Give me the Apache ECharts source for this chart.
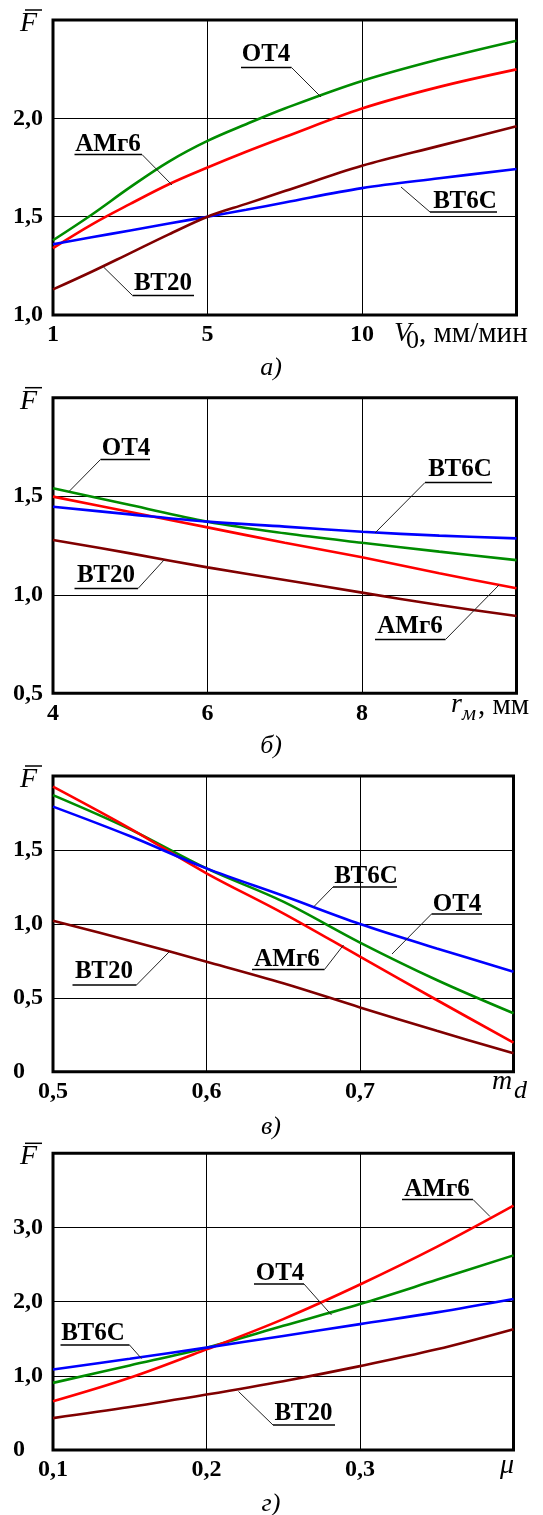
<!DOCTYPE html>
<html><head><meta charset="utf-8">
<script src="https://cdn.jsdelivr.net/npm/echarts@6/dist/echarts.min.js"></script>
<style>html,body{margin:0;padding:0;background:#fff}#c{width:543px;height:1515px}</style>
</head><body><div id="c"></div>
<script>
// ---------- data ----------
const materials = ['ОТ4', 'АМг6', 'ВТ6С', 'ВТ20'];

// panel а: x positions on the axis (equally spaced ticks 1, 5, 10)
const xA = [0, 0.25, 0.5, 0.75, 1, 1.25, 1.5, 2, 2.5, 3];
const xTicksA = ['1', '5', '10', ''];
const yTicksA = ['1,0', '1,5', '2,0', ''];
const aOT4  = [1.38, 1.51, 1.65, 1.78, 1.885, 1.97, 2.05, 2.19, 2.30, 2.395];
const aAMg6 = [1.34, 1.46, 1.565, 1.665, 1.75, 1.83, 1.905, 2.05, 2.16, 2.249];
const aVT6S = [1.36, 1.395, 1.43, 1.465, 1.5, 1.535, 1.572, 1.645, 1.695, 1.742];
const aVT20 = [1.13, 1.22, 1.315, 1.41, 1.5, 1.565, 1.63, 1.759, 1.86, 1.96];

// panel б
const xB = [4, 5, 6, 7, 8, 9, 10];
const xTicksB = ['4', '6', '8', ''];
const yTicksB = ['0,5', '1,0', '1,5', ''];
const bOT4  = [1.54, 1.455, 1.371, 1.312, 1.264, 1.219, 1.176];
const bAMg6 = [1.498, 1.42, 1.342, 1.264, 1.19, 1.109, 1.033];
const bVT6S = [1.447, 1.408, 1.371, 1.346, 1.32, 1.30, 1.286];
const bVT20 = [1.278, 1.21, 1.139, 1.075, 1.011, 0.948, 0.892];

// panel в
const xC = [0.5, 0.55, 0.6, 0.65, 0.7, 0.75, 0.8];
const xTicksC = ['0,5', '0,6', '0,7', ''];
const yTicksC = ['0', '0,5', '1,0', '1,5', ''];
const cOT4  = [1.871, 1.641, 1.375, 1.15, 0.873, 0.62, 0.395];
const cAMg6 = [1.928, 1.646, 1.342, 1.071, 0.778, 0.485, 0.196];
const cVT6S = [1.793, 1.594, 1.375, 1.19, 0.999, 0.834, 0.676];
const cVT20 = [1.021, 0.886, 0.744, 0.598, 0.435, 0.277, 0.124];

// panel г
const xD = [0.1, 0.15, 0.2, 0.25, 0.3, 0.35, 0.4];
const xTicksD = ['0,1', '0,2', '0,3', ''];
const yTicksD = ['0', '1,0', '2,0', '3,0', ''];
const dOT4  = [0.905, 1.14, 1.38, 1.674, 1.968, 2.294, 2.624];
const dAMg6 = [0.656, 0.973, 1.357, 1.765, 2.231, 2.738, 3.294];
const dVT6S = [1.086, 1.23, 1.38, 1.538, 1.697, 1.855, 2.036];
const dVT20 = [0.43, 0.579, 0.747, 0.928, 1.131, 1.357, 1.629];

const captions = ['а)', 'б)', 'в)', 'г)'];

// ---------- styles ----------
const SERIF = "'Liberation Serif','Times New Roman',serif";
const lineColors = { 'ОТ4': '#008c00', 'АМг6': '#ff0000', 'ВТ6С': '#0000ff', 'ВТ20': '#800000' };

const panels = [
  { x: xA, ys: [aOT4, aAMg6, aVT6S, aVT20], xt: xTicksA, yt: yTicksA, xr: [0, 3, 1], yr: [1.0, 2.5, 0.5],
    grid: { left: 53, top: 20, width: 463.5, height: 295 } },
  { x: xB, ys: [bOT4, bAMg6, bVT6S, bVT20], xt: xTicksB, yt: yTicksB, xr: [4, 10, 2], yr: [0.5, 2.0, 0.5],
    grid: { left: 53, top: 397.7, width: 463.5, height: 295.6 } },
  { x: xC, ys: [cOT4, cAMg6, cVT6S, cVT20], xt: xTicksC, yt: yTicksC, xr: [0.5, 0.8, 0.1], yr: [0, 2.0, 0.5],
    grid: { left: 53, top: 776, width: 460.5, height: 295.7 } },
  { x: xD, ys: [dOT4, dAMg6, dVT6S, dVT20], xt: xTicksD, yt: yTicksD, xr: [0.1, 0.4, 0.1], yr: [0, 4, 1],
    grid: { left: 53, top: 1153.3, width: 460.5, height: 296.7 } }
];

const grids = [], xAxes = [], yAxes = [], series = [];
panels.forEach((p, i) => {
  grids.push(Object.assign({ show: true, borderColor: '#000', borderWidth: 3, backgroundColor: 'transparent' }, p.grid));
  xAxes.push({
    type: 'value', gridIndex: i, min: p.xr[0], max: p.xr[1], interval: p.xr[2],
    axisLine: { show: false }, axisTick: { show: false },
    splitLine: { show: true, lineStyle: { color: '#000', width: 1 } },
    axisLabel: { margin: 8, color: '#000', fontFamily: SERIF, fontWeight: 'bold', fontSize: 24,
      showMinLabel: true, showMaxLabel: true,
      formatter: v => p.xt[Math.round((v - p.xr[0]) / p.xr[2])] || '' }
  });
  yAxes.push({
    type: 'value', gridIndex: i, min: p.yr[0], max: p.yr[1], interval: p.yr[2],
    axisLine: { show: false }, axisTick: { show: false },
    splitLine: { show: true, lineStyle: { color: '#000', width: 1 } },
    axisLabel: { margin: 40, align: 'left', color: '#000', fontFamily: SERIF, fontWeight: 'bold', fontSize: 24,
      showMinLabel: true, showMaxLabel: true,
      formatter: v => p.yt[Math.round((v - p.yr[0]) / p.yr[2])] || '' }
  });
  p.ys.forEach((arr, k) => {
    series.push({
      type: 'line', name: materials[k], xAxisIndex: i, yAxisIndex: i,
      data: p.x.map((xv, j) => [xv, arr[j]]),
      smooth: 0.35, showSymbol: false, silent: true,
      lineStyle: { color: lineColors[materials[k]], width: 2.6 },
      itemStyle: { color: lineColors[materials[k]] }
    });
  });
});

// ---------- annotations ----------
const g = [];
function tag(text, cx, cy, ux1, ux2, uy, lx, ly) {
  g.push({ type: 'text', z: 100, style: { text, x: cx, y: cy, fill: '#000', align: 'center', verticalAlign: 'middle',
    font: 'bold 25px ' + SERIF } });
  g.push({ type: 'line', z: 100, shape: { x1: ux1, y1: uy, x2: ux2, y2: uy }, style: { stroke: '#000', lineWidth: 1.5 } });
  const ex = (Math.abs(lx - ux1) < Math.abs(lx - ux2)) ? ux1 : ux2;
  g.push({ type: 'line', z: 100, shape: { x1: ex, y1: uy, x2: lx, y2: ly }, style: { stroke: '#222', lineWidth: 1 } });
}
// panel а
tag('ОТ4', 266, 55, 241, 291.5, 67.5, 321, 97);
tag('АМг6', 108, 145, 74.5, 142, 154.5, 172, 185);
tag('ВТ6С', 465, 202, 430, 497, 212, 401, 187);
tag('ВТ20', 163, 284, 132.5, 194, 295.5, 103.5, 267);
// panel б
tag('ОТ4', 126, 449, 100.5, 150, 459.5, 69, 491.5);
tag('ВТ6С', 460, 470, 425, 492, 482.5, 375, 533);
tag('ВТ20', 106, 576, 74.5, 138, 588.5, 164, 560);
tag('АМг6', 410, 627, 375, 445.5, 639.5, 499, 585);
// panel в
tag('ВТ6С', 366, 877, 333, 397, 887, 314, 906.5);
tag('ОТ4', 457, 905, 431.5, 482, 914, 392, 954);
tag('АМг6', 287, 960, 252, 324.5, 969.5, 343.5, 945);
tag('ВТ20', 104, 972, 72.5, 136.5, 985, 169, 952);
// panel г
tag('АМг6', 437, 1190, 402, 473, 1199.5, 490, 1216.5);
tag('ОТ4', 280, 1274, 254, 304, 1284, 331.5, 1315);
tag('ВТ6С', 93, 1334, 60.5, 129.5, 1345, 141.5, 1358.5);
tag('ВТ20', 303.5, 1414, 273, 335, 1425, 238.5, 1391.5);

// F-bar labels
panels.forEach((p, i) => {
  const top = p.grid.top;
  g.push({ type: 'text', z: 100, style: { text: 'F', x: 20, y: top + 3.5, fill: '#000', align: 'left', verticalAlign: 'middle',
    font: 'italic 28px ' + SERIF } });
  g.push({ type: 'line', z: 100, shape: { x1: 25, y1: top - 10, x2: 42, y2: top - 10 }, style: { stroke: '#000', lineWidth: 1.5 } });
});
// captions
[368, 746, 1127, 1504].forEach((cy, i) => {
  g.push({ type: 'text', z: 100, style: { text: captions[i], x: 271, y: cy, fill: '#000', align: 'center', verticalAlign: 'middle',
    font: 'italic 26px ' + SERIF } });
});
function t(text, x, y, font, align) {
  g.push({ type: 'text', z: 100, style: { text, x, y, fill: '#000', align: align || 'left', verticalAlign: 'middle', font: font + ' ' + SERIF } });
}
// axis titles
t('V', 394, 334, 'italic 28px');
t('0', 406, 341, '26px');
t(', мм/мин', 419, 334, '29px');
t('r', 451, 705, 'italic 28px');
t('м', 462, 714, 'italic 22px');
t(', мм', 478, 706, '29px');
t('m', 492, 1082, 'italic 28px');
t('d', 514, 1091, 'italic 26px');
t('μ', 500, 1466, 'italic 28px');

const chart = echarts.init(document.getElementById('c'), null, { renderer: 'canvas' });
chart.setOption({
  animation: false, backgroundColor: '#fff',
  grid: grids, xAxis: xAxes, yAxis: yAxes, series: series, graphic: g
});
</script></body></html>
